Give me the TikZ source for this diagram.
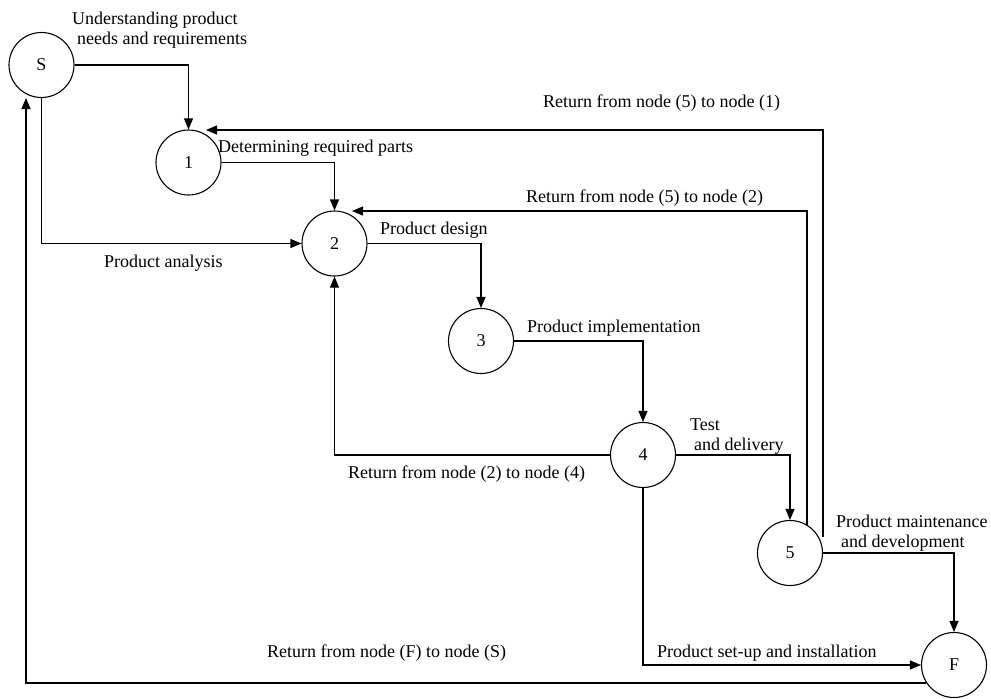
\documentclass[tikz,border=0pt]{standalone}
\usepackage{fontspec}
\setmainfont{Liberation Serif}
\usetikzlibrary{arrows.meta}
\begin{document}
\begin{tikzpicture}[x=1pt,y=-1pt,
  state/.style={draw, circle, minimum size=65pt, inner sep=0pt, line width=1.1pt, font=\fontsize{18}{20}\selectfont},
  lbl/.style={anchor=base west, inner sep=0pt, font=\fontsize{18}{20}\selectfont},
  conn/.style={line width=1.1pt, -{Triangle[length=11pt,width=9pt]}}]
\useasboundingbox (0,0) rectangle (991,699);
% nodes
\node[state] (S) at (41.5,65) {S};
\node[state] (n1) at (188.5,162.5) {1};
\node[state] (n2) at (334.5,243.5) {2};
\node[state] (n3) at (481,341) {3};
\node[state] (n4) at (643,455) {4};
\node[state] (n5) at (790,553) {5};
\node[state] (F) at (954,665) {F};
% free ends
\coordinate (r1) at (206,130);
\coordinate (r2) at (352,211);
\coordinate (c51) at (823,537);
\coordinate (sIn) at (26,98);
% connectors
\draw[conn] (S.east) -| (n1.north);
\draw[conn] (n1.east) -| (n2.north);
\draw[conn] (S.south) |- (n2.west);
\draw[conn] (n2.east) -| (n3.north);
\draw[conn] (n3.east) -| (n4.north);
\draw[conn] (n4.west) -| (n2.south);
\draw[conn] (n4.east) -| (n5.north);
\draw[conn] (n4.south) |- (F.west);
\draw[conn] (n5.east) -| (F.north);
\draw[conn] (n5.59) |- (r2);
\draw[conn] (c51) |- (r1);
\draw[conn] (F.213) -| (sIn);
% labels
\node[lbl] (tU1) at (72,24) {Understanding product};
\node[lbl] (tU2) at (77,44) {needs and requirements};
\node[lbl] (tD) at (218,152) {Determining required parts};
\node[lbl] (tA) at (104,267) {Product analysis};
\node[lbl] (tPD) at (380,234) {Product design};
\node[lbl] (tR52) at (526,202) {Return from node (5) to node (2)};
\node[lbl] (tR51) at (543,107) {Return from node (5) to node (1)};
\node[lbl] (tPI) at (527,332) {Product implementation};
\node[lbl] (tT1) at (690,430) {Test};
\node[lbl] (tT2) at (694,450) {and delivery};
\node[lbl] (tR24) at (348,478) {Return from node (2) to node (4)};
\node[lbl] (tM1) at (836,527) {Product maintenance};
\node[lbl] (tM2) at (841,547) {and development};
\node[lbl] (tSU) at (657,657) {Product set-up and installation};
\node[lbl] (tRFS) at (267,657) {Return from node (F) to node (S)};
\end{tikzpicture}
\end{document}
